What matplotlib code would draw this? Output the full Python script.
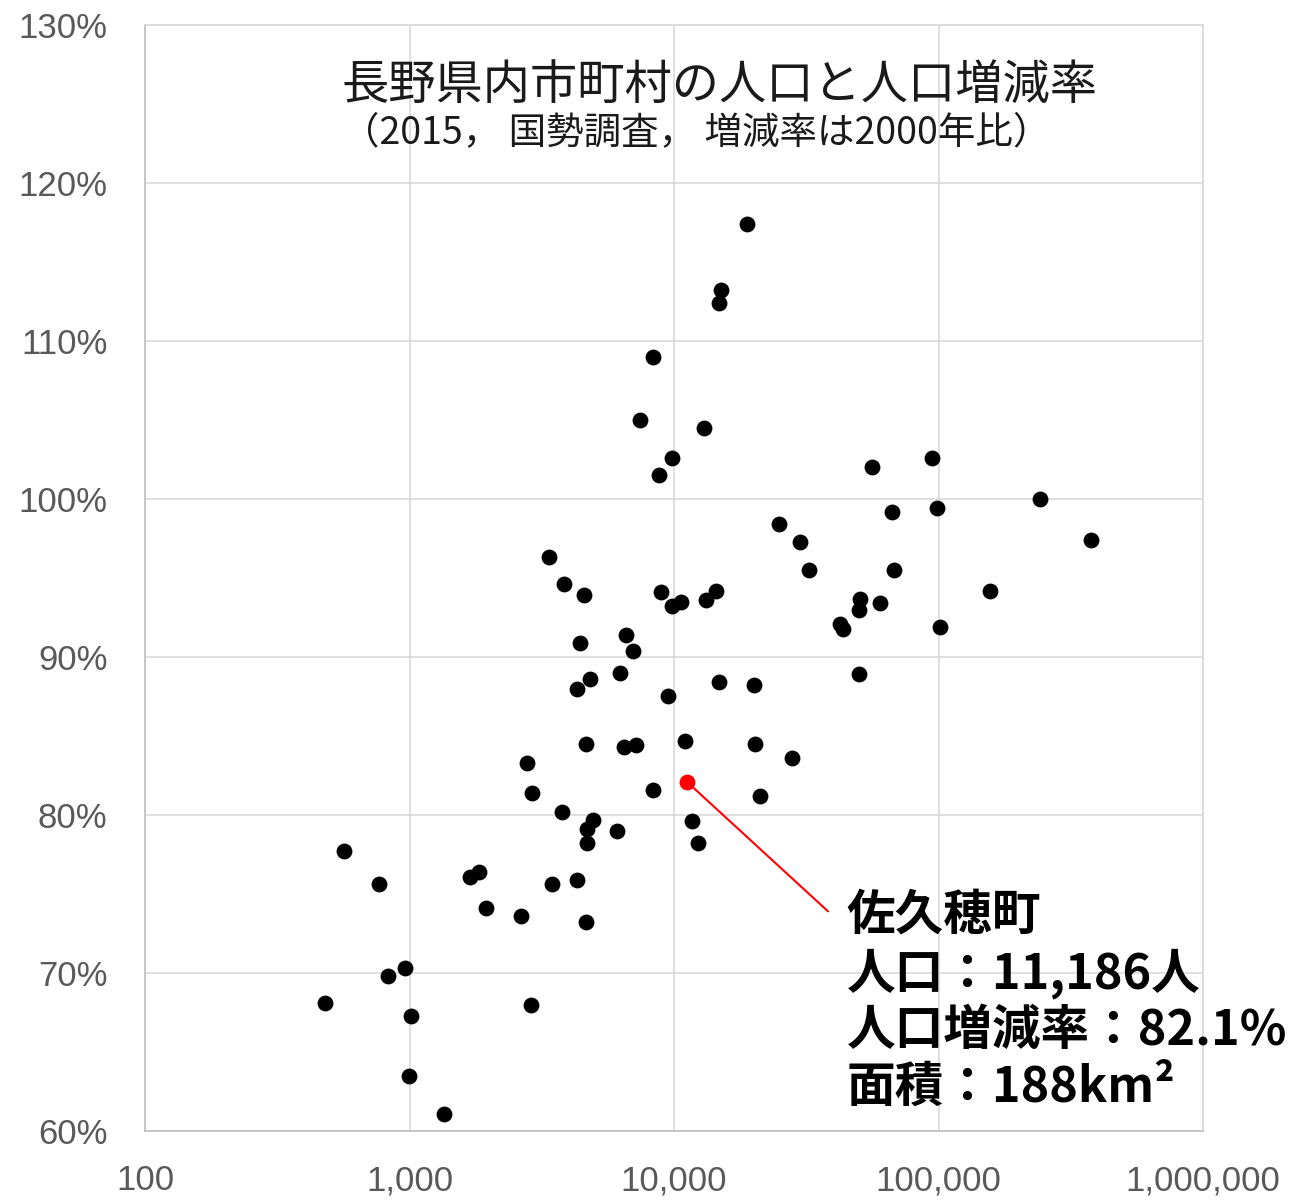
import matplotlib
matplotlib.use('Agg')
import matplotlib.pyplot as plt
from matplotlib.ticker import FixedLocator, FuncFormatter, NullLocator

plt.rcParams['font.family'] = ['Noto Sans CJK JP', 'DejaVu Sans']

# 2015 population and change rate vs 2000 (%)
population = [18900, 15100, 14800, 8330, 7430, 12980, 9820, 8780, 56100, 94500,
              242000, 98700, 66700, 377000, 24950, 29800, 32500, 68000, 3380, 3840,
              4570, 8900, 9820, 10630, 13200, 14400, 50300, 49900, 60100, 157000,
              42300, 43500, 101000, 4410, 6590, 7000, 6250, 4810, 4300, 9490,
              14800, 20000, 49900, 4650, 6480, 7180, 11020, 20200, 28000, 2790,
              2906, 8330, 21150, 3774, 4940, 4690, 6090, 11700, 4690, 12330,
              565, 1832, 1693, 4300, 3458, 767, 1946, 2640, 4650, 962,
              829, 479, 2879, 1013, 995, 1350]
rate = [117.4, 113.2, 112.4, 109.0, 105.0, 104.5, 102.6, 101.5, 102.0, 102.6,
        100.0, 99.4, 99.2, 97.4, 98.4, 97.3, 95.5, 95.5, 96.3, 94.6,
        93.9, 94.1, 93.2, 93.5, 93.6, 94.2, 93.7, 93.0, 93.4, 94.2,
        92.1, 91.8, 91.9, 90.9, 91.4, 90.4, 89.0, 88.6, 88.0, 87.5,
        88.4, 88.2, 88.9, 84.5, 84.3, 84.4, 84.7, 84.5, 83.6, 83.3,
        81.4, 81.6, 81.2, 80.2, 79.7, 79.1, 79.0, 79.6, 78.2, 78.2,
        77.7, 76.4, 76.1, 75.9, 75.6, 75.6, 74.1, 73.6, 73.2, 70.3,
        69.8, 68.1, 68.0, 67.3, 63.5, 61.1]

hl_name = '佐久穂町'
hl_pop = [11186]
hl_rate = [82.1]
hl_area = 188

x_ticks = [100, 1000, 10000, 100000, 1000000]
y_ticks = [60, 70, 80, 90, 100, 110, 120, 130]

fig = plt.figure(figsize=(13.09, 12.02), dpi=100)
ax = fig.add_axes([0.1108, 0.0591, 0.8083, 0.9201])

ax.scatter(population, rate, s=130, color='black', zorder=3, linewidths=0)
ax.scatter(hl_pop, hl_rate, s=130, color='red', zorder=4, linewidths=0)

ax.set_xscale('log')
ax.set_xlim(100, 1000000)
ax.set_ylim(60, 130)
ax.xaxis.set_major_locator(FixedLocator(x_ticks))
ax.xaxis.set_minor_locator(NullLocator())
ax.yaxis.set_major_locator(FixedLocator(y_ticks))
ax.xaxis.set_major_formatter(FuncFormatter(lambda v, p: f'{v:,.0f}'))
ax.yaxis.set_major_formatter(FuncFormatter(lambda v, p: f'{v:.0f}%'))
ax.grid(True, color='#d9d9d9', linewidth=1.2, zorder=0)
ax.set_axisbelow(True)
for s in ax.spines.values():
    s.set_color('#d9d9d9')
    s.set_linewidth(1.2)
ax.spines['bottom'].set_color('#bfbfbf')
ax.spines['left'].set_color('#bfbfbf')

ax.tick_params(length=0, labelsize=25, labelcolor='#595959')
ax.tick_params(axis='y', pad=27)
ax.tick_params(axis='x', pad=24)
for lab in ax.get_xticklabels() + ax.get_yticklabels():
    lab.set_family(['Liberation Sans Narrow', 'Liberation Sans', 'DejaVu Sans'])

fig.text(0.550, 0.929, '長野県内市町村の人口と人口増減率', ha='center', va='center',
         fontsize=34, color='#1a1a1a')
fig.text(0.532, 0.890, '（2015， 国勢調査， 増減率は2000年比）', ha='center', va='center',
         fontsize=27, color='#1a1a1a')

# leader line + label
ax.annotate('', xy=(hl_pop[0], hl_rate[0]), xytext=(38200, 73.9),
            arrowprops=dict(arrowstyle='-', color='red', lw=1.5,
                            shrinkA=0, shrinkB=0))
label = (f'{hl_name}\n人口：{hl_pop[0]:,}人\n人口増減率：{hl_rate[0]}%\n'
         f'面積：{hl_area}km²')
ax.text(45000, 75.2, label, ha='left', va='top', fontsize=35,
        fontweight='bold', linespacing=1.2, color='black')

fig.savefig('out.png', dpi=100)
